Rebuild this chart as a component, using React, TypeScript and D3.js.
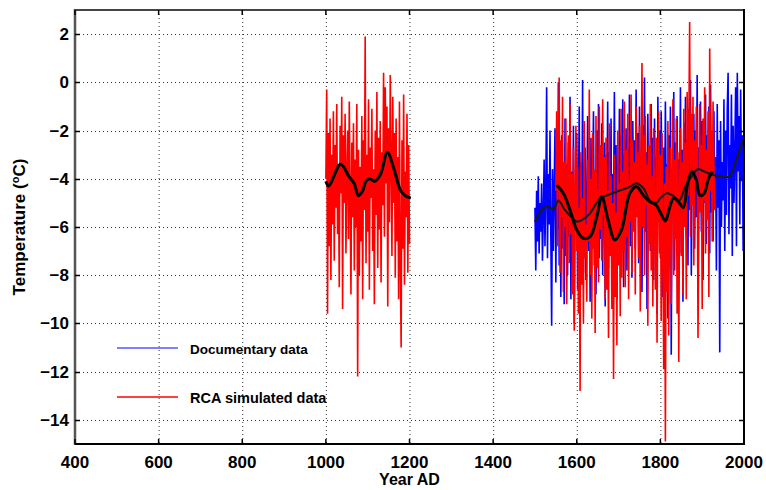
import * as d3 from "d3"
import React, { useEffect, useRef } from "react"

const yearStep = 2

const redEarlyStart = 1000
const redEarly = [
  -4.0, -0.3, -9.6, -2.1, -6.8, -1.5, -8.2, -3.0, -5.9, -1.2,
  -7.4, -2.6, -5.2, -0.9, -6.3, -3.4, -8.5, -1.8, -4.6, -0.6,
  -9.4, -2.2, -5.0, -1.3, -7.1, -3.8, -2.0, -6.5, -0.8, -4.9,
  -8.8, -2.5, -5.6, -1.7, -7.8, -3.2, -6.0, -0.9, -12.2, -2.8,
  -8.0, -3.5, -6.6, -1.4, -9.0, -2.4, -5.3, 1.9, -7.5, -3.0,
  -6.2, -0.7, -8.6, -2.7, -4.8, -1.1, -7.0, -3.6, -9.2, -2.0,
  -5.5, -0.4, -7.7, -2.3, -6.1, -1.6, -8.3, -2.9, -5.1, 0.4,
  -6.4, -0.2, -4.2, -1.0, -9.3, -1.9, -5.8, 0.3, -3.3, -7.2,
  -0.6, -5.0, -2.1, -8.1, -1.5, -6.6, -3.1, -9.0, -0.8, -7.4,
  -11.0, -2.4, -6.9, -0.5, -8.4, -3.7, -5.6, -1.3, -7.9, -2.6,
  -6.7,
]

const documentaryStart = 1500
const documentary = [
  -5.2, -7.8, -4.5, -6.6, -3.9, -7.1, -5.0, -6.2, -4.2, -7.4,
  -5.5, -3.2, -6.8, -4.6, -0.2, -7.3, -3.8, -5.9, -2.0, -6.4,
  -10.1, -3.6, -7.0, -4.4, -1.9, -8.3, -2.8, -6.1, 0.0, -7.6,
  -3.0, -8.9, -2.2, -6.9, -4.1, -9.2, -1.5, -7.2, -3.4, -8.0,
  -2.5, -6.4, -0.6, -9.0, -3.7, -7.5, -1.8, -10.0, -4.3, -6.0,
  -2.1, -8.6, -4.9, -1.0, -9.5, -3.3, -6.7, 0.1, -7.9, -4.0,
  -2.7, -8.2, -5.2, -1.4, -7.0, -3.6, -9.1, -2.3, -6.2, -4.4,
  -1.2, -7.6, -3.9, -8.8, -2.0, -5.8, -0.9, -7.3, -3.2, -6.5,
  -1.7, -8.0, -4.1, -2.5, -9.3, -3.0, -5.5, -0.8, -7.7, -2.9,
  -6.0, -1.5, -8.4, -3.8, -5.2, -0.4, -7.1, -2.6, -9.0, -3.4,
  -5.6, -1.1, -7.4, -2.2, -6.3, -0.7, -8.5, -3.0, -4.9, -1.9,
  -7.8, -2.8, -5.4, -0.5, -6.8, -3.5, -8.1, -1.6, -5.0, -2.4,
  -6.9, -0.3, -4.6, -2.1, -7.5, -1.0, -5.7, -3.3, -8.7, -1.8,
  -4.4, 0.2, -6.2, -2.9, -9.4, -1.3, -5.3, -3.7, -7.0, -0.9,
  -6.6, -2.3, -8.2, -1.5, -4.9, -3.1, -9.6, -0.6, -5.8, -2.0,
  -7.3, -1.2, -4.6, -8.9, -2.7, -6.1, -0.8, -5.2, -3.4, -9.8,
  -2.2, -6.7, -1.0, -11.3, -3.6, -5.5, -0.4, -7.8, -2.5, -6.0,
  -1.4, -8.4, -3.2, -5.0, -0.2, -7.1, -2.8, -9.1, -1.7, -4.8,
  -0.6, -6.4, -2.4, -7.6, -1.1, -5.3, 0.1, -8.0, -3.0, -4.5,
  -1.3, -6.9, -2.0, -5.6, 0.3, -7.4, -2.7, -4.2, -0.8, -6.2,
  -1.6, -8.2, -2.9, -5.0, -0.5, -6.7, -2.2, -4.6, -1.0, -7.1,
  -0.1, -5.4, -2.5, -6.6, -1.2, -4.8, -3.1, -7.8, -0.9, -5.2,
  -2.4, -11.2, -1.6, -6.0, -3.3, -4.9, -0.7, -7.0, -2.0, -5.5,
  -1.1, 0.4, -6.3, -2.6, -4.4, -0.5, -7.2, -1.8, -5.0, -2.9,
  -0.2, -6.8, 0.4, -3.7, -1.4, -5.9, -0.3, -4.1, -2.2, -7.0,
  -1.0,
]

const redLateStart = 1550
const redLate = [
  -4.5, -1.2, -6.8, -3.0, 0.2, -7.9, -2.4, -5.6, -0.6, -8.7,
  -3.3, -6.0, -1.5, -9.2, -4.1, -2.2, -7.5, -0.9, -6.3, -3.8,
  -8.8, -2.7, -10.3, -4.6, -1.8, -7.0, -3.5, -9.6, -5.2, -12.8,
  -2.9, -8.4, -4.8, -10.0, -1.6, -7.3, -5.9, -9.1, -3.2, -6.6,
  -0.3, -8.0, -4.0, -9.8, -2.1, -6.9, -3.6, -10.4, -1.4, -7.7,
  -4.4, -8.3, -1.0, -6.1, -2.6, -7.4, -0.7, -5.5, -3.1, -9.0,
  -2.3, -8.6, -4.5, -10.6, -1.7, -7.2, -3.9, -9.4, -5.0, -12.3,
  -3.0, -8.9, -5.4, -10.9, -2.0, -7.6, -4.2, -9.7, -1.1, -8.1,
  -3.7, -7.0, -0.8, -8.5, -2.8, -6.4, -1.3, -9.0, -4.0, -5.8,
  -0.5, -7.9, -2.4, -6.2, -3.3, -8.8, -1.0, -5.6, -2.9, -7.3,
  -1.8, -9.5, -3.6, 0.8, -6.0, -2.2, -8.0, -1.4, -5.1, -3.4,
  -10.1, -2.6, -6.7, -0.9, -7.8, -3.9, -9.3, -1.9, -5.4, -8.6,
  -2.3, -10.8, -4.4, -1.2, -7.1, -3.0, -9.9, -2.1, -6.3, -11.9,
  -4.2, -14.9, -3.5, -8.7, -1.6, -10.5, -5.0, -2.7, -9.2, -4.1,
  -0.7, -8.0, -3.2, -6.5, -1.5, -9.6, -2.9, -11.6, -4.6, -1.9,
  -7.2, -3.3, -8.8, -1.1, -6.0, -2.5, -9.0, -0.4, -4.7, -2.0,
  2.5, -6.4, -1.3, -5.1, -0.6, -7.6, -2.4, -4.3, -1.0, -2.0,
  -10.6, -6.0, -0.9, -5.4, -2.6, -9.4, -1.5, -4.9, -0.2, -7.1,
  -2.8, -5.7, -1.2, -8.9, 1.4, -4.5, -2.0, -6.6, -0.8, -3.5,
  -5.3,
]

// smoothed curves (black)
const smoothEarlyYears = [1000, 1006, 1014, 1024, 1034, 1042, 1055, 1068, 1078, 1088, 1096, 1105, 1117, 1131, 1147, 1163, 1179, 1190, 1203]
const smoothEarly = [-4.1, -4.3, -4.1, -3.7, -3.4, -3.5, -3.9, -4.2, -4.7, -4.5, -4.1, -4.0, -4.1, -3.8, -2.9, -3.6, -4.5, -4.7, -4.8]

const smoothLateYears = [1552, 1568, 1584, 1600, 1616, 1632, 1648, 1660, 1675, 1691, 1707, 1727, 1743, 1760, 1775, 1790, 1800, 1812, 1822, 1832, 1845, 1855, 1865, 1875, 1885, 1895, 1905, 1915, 1925]
const smoothLate = [-4.26, -4.6, -5.3, -6.12, -6.47, -6.4, -5.57, -4.74, -5.71, -6.54, -6.12, -4.6, -4.33, -4.7, -4.95, -5.1, -5.4, -5.75, -5.2, -4.8, -5.0, -5.2, -4.2, -3.7, -4.0, -4.7, -4.6, -4.0, -3.7]

const smoothDocYears = [1500, 1520, 1532, 1544, 1556, 1572, 1588, 1600, 1628, 1656, 1675, 1695, 1727, 1743, 1760, 1775, 1790, 1800, 1815, 1830, 1845, 1860, 1875, 1890, 1905, 1920, 1940, 1965, 1980, 1997, 2000]
const smoothDoc = [-5.78, -5.23, -5.16, -5.27, -4.9, -5.3, -5.6, -5.78, -5.5, -4.81, -4.67, -4.54, -4.33, -4.19, -4.4, -4.9, -5.0, -4.8, -4.6, -4.7, -4.9, -4.3, -3.9, -3.6, -3.7, -3.8, -3.9, -3.9, -3.3, -2.46, -2.4]

const xTicks = [400, 600, 800, 1000, 1200, 1400, 1600, 1800, 2000]
const yTicks = [-14, -12, -10, -8, -6, -4, -2, 0, 2]

const legendLabels = ["Documentary data", "RCA simulated data"]

const toPoints = (start: number, values: number[]) =>
  values.map((v, i) => [start + i * yearStep, v] as [number, number])
const pair = (years: number[], values: number[]) =>
  years.map((yr, i) => [yr, values[i]] as [number, number])

export default function App() {
  const ref = useRef<SVGSVGElement>(null)

  useEffect(() => {
    const width = 766
    const height = 490
    const left = 75, right = 744, top = 10, bottom = 444

    const svg = d3.select(ref.current)
    svg.selectAll("*").remove()

    const x = d3.scaleLinear().domain([400, 2000]).range([left, right])
    const y = d3.scaleLinear().domain([-15, 3]).range([bottom, top])

    svg.append("rect").attr("width", width).attr("height", height).attr("fill", "#fff")

    svg.append("defs").append("clipPath").attr("id", "plot")
      .append("rect")
      .attr("x", left).attr("y", top)
      .attr("width", right - left).attr("height", bottom - top)

    // dotted grid
    const grid = svg.append("g").attr("stroke", "#000").attr("stroke-width", 1)
      .attr("stroke-dasharray", "1,3").attr("opacity", 0.8)
    grid.selectAll("line.v").data(xTicks.slice(1, -1)).join("line")
      .attr("class", "v")
      .attr("x1", d => x(d) + 0.5).attr("x2", d => x(d) + 0.5)
      .attr("y1", top).attr("y2", bottom)
    grid.selectAll("line.h").data(yTicks).join("line")
      .attr("class", "h")
      .attr("x1", left).attr("x2", right)
      .attr("y1", d => Math.round(y(d)) + 0.5).attr("y2", d => Math.round(y(d)) + 0.5)

    const line = d3.line<[number, number]>()
      .x(d => x(d[0]))
      .y(d => y(d[1]))
    const smooth = d3.line<[number, number]>()
      .x(d => x(d[0]))
      .y(d => y(d[1]))
      .curve(d3.curveCatmullRom)

    const plot = svg.append("g").attr("clip-path", "url(#plot)")

    plot.append("path")
      .datum(toPoints(documentaryStart, documentary))
      .attr("fill", "none").attr("stroke", "#0000ff").attr("stroke-width", 1.6)
      .attr("d", line)

    plot.append("path")
      .datum(toPoints(redEarlyStart, redEarly))
      .attr("fill", "none").attr("stroke", "#ff0000").attr("stroke-width", 1.6)
      .attr("d", line)

    plot.append("path")
      .datum(toPoints(redLateStart, redLate))
      .attr("fill", "none").attr("stroke", "#ff0000").attr("stroke-width", 1.6)
      .attr("d", line)

    plot.append("path")
      .datum(pair(smoothDocYears, smoothDoc))
      .attr("fill", "none").attr("stroke", "#1a1a1a").attr("stroke-width", 2.2)
      .attr("stroke-linejoin", "round")
      .attr("d", smooth)

    plot.append("path")
      .datum(pair(smoothEarlyYears, smoothEarly))
      .attr("fill", "none").attr("stroke", "#000").attr("stroke-width", 3)
      .attr("stroke-linejoin", "round")
      .attr("d", smooth)

    plot.append("path")
      .datum(pair(smoothLateYears, smoothLate))
      .attr("fill", "none").attr("stroke", "#000").attr("stroke-width", 3)
      .attr("stroke-linejoin", "round")
      .attr("d", smooth)

    // box with inward ticks on all sides
    const box = svg.append("g")
    box.append("line").attr("x1", left).attr("x2", left).attr("y1", top - 1).attr("y2", bottom + 1)
      .attr("stroke", "#555").attr("stroke-width", 2.5)
    box.append("line").attr("x1", left).attr("x2", right).attr("y1", top).attr("y2", top)
      .attr("stroke", "#444").attr("stroke-width", 2)
    box.append("line").attr("x1", right).attr("x2", right).attr("y1", top - 1).attr("y2", bottom + 1)
      .attr("stroke", "#000").attr("stroke-width", 2)
    box.append("line").attr("x1", left).attr("x2", right).attr("y1", bottom).attr("y2", bottom)
      .attr("stroke", "#000").attr("stroke-width", 2)

    const ticks = box.append("g").attr("stroke", "#000").attr("stroke-width", 1.5)
    yTicks.forEach(t => {
      const ty = Math.round(y(t)) + 0.5
      ticks.append("line").attr("x1", left).attr("x2", left + 5).attr("y1", ty).attr("y2", ty)
      ticks.append("line").attr("x1", right - 5).attr("x2", right).attr("y1", ty).attr("y2", ty)
    })
    xTicks.forEach(t => {
      const tx = x(t)
      ticks.append("line").attr("x1", tx).attr("x2", tx).attr("y1", bottom - 5).attr("y2", bottom)
      ticks.append("line").attr("x1", tx).attr("x2", tx).attr("y1", top).attr("y2", top + 5)
    })

    const font = "'Liberation Sans', Arial, sans-serif"
    const fmt = (v: number) => (v < 0 ? "\u2212" + Math.abs(v) : String(v))

    svg.append("g")
      .selectAll("text").data(yTicks).join("text")
      .attr("x", left - 6).attr("y", d => y(d) + 6)
      .attr("text-anchor", "end")
      .attr("font-family", font).attr("font-weight", "bold").attr("font-size", 17)
      .text(d => fmt(d))

    svg.append("g")
      .selectAll("text").data(xTicks).join("text")
      .attr("x", d => x(d)).attr("y", 468)
      .attr("text-anchor", "middle")
      .attr("font-family", font).attr("font-weight", "bold").attr("font-size", 17)
      .text(d => String(d))

    svg.append("text")
      .attr("x", (left + right) / 2).attr("y", 485)
      .attr("text-anchor", "middle")
      .attr("font-family", font).attr("font-weight", "bold").attr("font-size", 16)
      .text("Year AD")

    const yl = svg.append("text")
      .attr("transform", `translate(25,${(top + bottom) / 2}) rotate(-90)`)
      .attr("text-anchor", "middle")
      .attr("font-family", font).attr("font-weight", "bold").attr("font-size", 17)
    yl.append("tspan").text("Temperature (")
    yl.append("tspan").attr("font-size", 11).attr("dy", -6).text("o")
    yl.append("tspan").attr("dy", 6).text("C)")

    // legend
    const legendColors = ["#0000ff", "#ff0000"]
    const legendWidths = [1.2, 1.6]
    const legendY = [348, 397]
    const legendSize = [13.5, 14.5]
    const legend = svg.append("g")
    legendLabels.forEach((label, i) => {
      legend.append("line")
        .attr("x1", 117).attr("x2", 178)
        .attr("y1", legendY[i]).attr("y2", legendY[i])
        .attr("stroke", legendColors[i]).attr("stroke-width", legendWidths[i])
      legend.append("text")
        .attr("x", 190).attr("y", legendY[i] + 6)
        .attr("font-family", font).attr("font-weight", "bold")
        .attr("font-size", legendSize[i])
        .text(label)
    })
  }, [])

  return (
    <svg
      ref={ref}
      width={766}
      height={490}
      style={{ position: "absolute", left: 0, top: 0, display: "block" }}
    />
  )
}
